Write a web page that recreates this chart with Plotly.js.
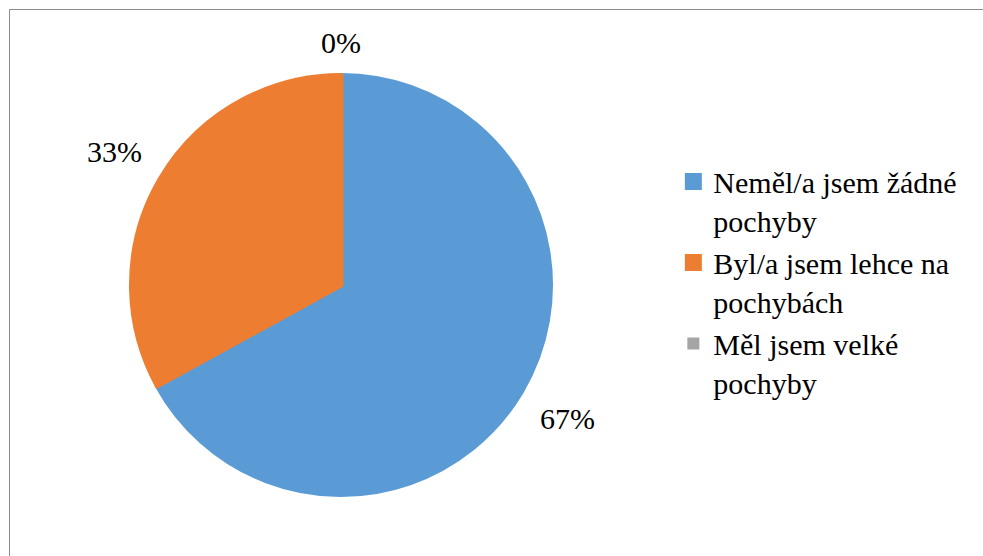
<!DOCTYPE html>
<html>
<head>
<meta charset="utf-8">
<script src="https://cdn.plot.ly/plotly-3.0.1.min.js"></script>
</head>
<body style="margin:0">
<div id="chart"></div>
<script>
const categories = ["Neměl/a jsem žádné<br>pochyby", "Byl/a jsem lehce na<br>pochybách", "Měl jsem velké<br>pochyby"];
const values = [67, 33, 0];
const colors = ["#5B9BD5", "#ED7D31", "#A5A5A5"];

const f = {family: "Liberation Serif", size: 30, color: "#000000"};
const W = 983, H = 556;
const cx = 341, cy = 285, R = 212;
const edge = 5;           // outline in the slice's own colour (also enlarges legend squares)
const Rd = R - edge / 2;  // domain radius so the visible edge sits at R

const trace = {
  type: "pie",
  labels: categories,
  values: values,
  sort: false,
  direction: "clockwise",
  rotation: 0,
  marker: {colors: colors, line: {color: colors, width: values.map(v => v > 0 ? edge : 0)}},
  textinfo: "none",
  hoverinfo: "label+percent",
  domain: {x: [(cx - Rd) / W, (cx + Rd) / W], y: [(H - cy - Rd) / H, (H - cy + Rd) / H]},
  showlegend: true
};

// percentage labels placed outside each slice along its mid-angle
const total = values.reduce((a, b) => a + b, 0);
const annotations = [];
let cum = 0;
values.forEach((v, i) => {
  const mid = (cum + v / 2) / total;
  cum += v;
  const txt = Math.round(v / total * 100) + "%";
  const ang = mid * 2 * Math.PI;
  const s = Math.sin(ang), c = Math.cos(ang);
  const hw = txt.length * 11, hh = 15;
  const rr = R + 15 + Math.abs(s) * hw + Math.abs(c) * hh;
  annotations.push({
    xref: "paper", yref: "paper",
    x: (cx + rr * s) / W,
    y: (H - (cy - rr * c)) / H,
    text: txt,
    showarrow: false,
    xanchor: "center", yanchor: "middle",
    font: f
  });
});

// thin chart-area frame (left and top edges)
const fx = 9.5 / W, fy = (H - 9.5) / H;
const shapes = [
  {type: "line", xref: "paper", yref: "paper", x0: fx, x1: fx, y0: 0, y1: fy, line: {color: "#8c8c8c", width: 1}},
  {type: "line", xref: "paper", yref: "paper", x0: fx, x1: 1, y0: fy, y1: fy, line: {color: "#8c8c8c", width: 1}}
];

const layout = {
  width: W, height: H,
  margin: {l: 0, r: 0, t: 0, b: 0},
  xaxis: {visible: false}, yaxis: {visible: false},
  showlegend: true,
  legend: {
    x: 0.685, y: 0.493, xanchor: "left", yanchor: "middle",
    font: f,
    itemwidth: 30,
    valign: "top",
    traceorder: "normal"
  },
  annotations: annotations,
  shapes: shapes
};

Plotly.newPlot("chart", [trace], layout, {staticPlot: true});
</script>
</body>
</html>
